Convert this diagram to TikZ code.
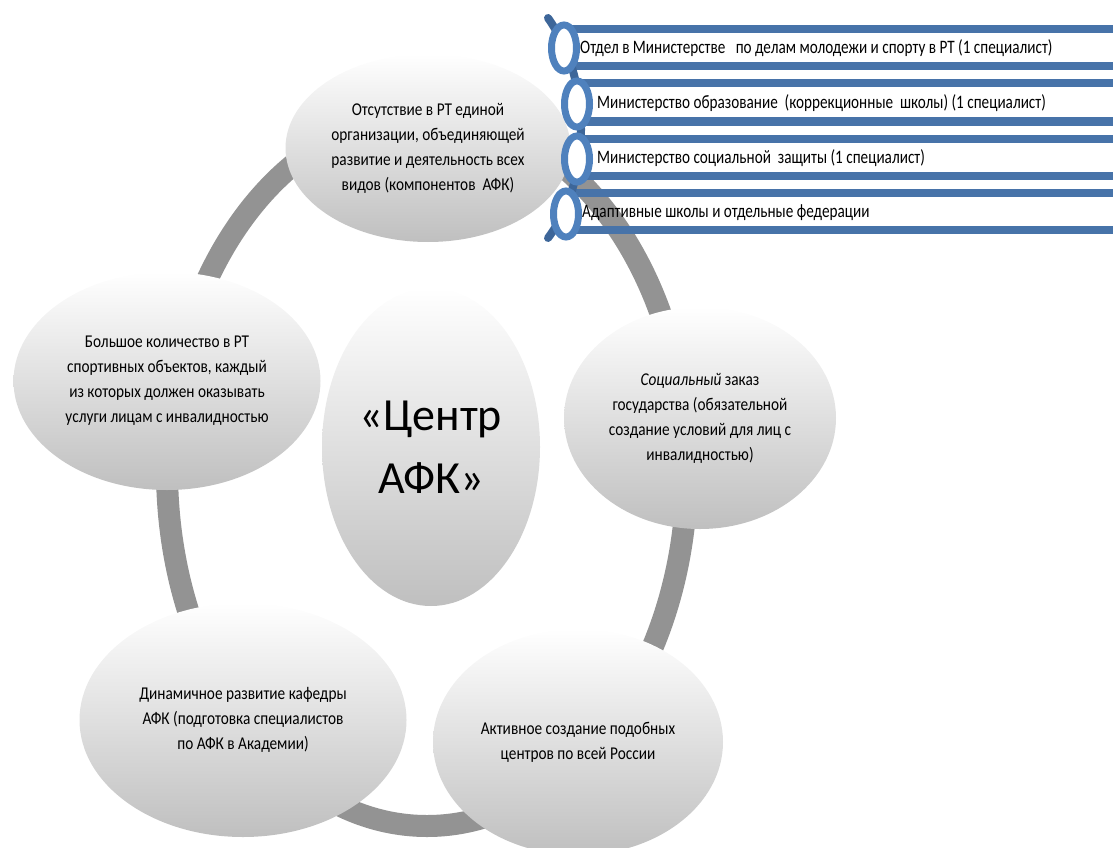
\documentclass[tikz,border=0pt]{standalone}
\usepackage{fontspec}
\setmainfont{Carlito}
\newfontfamily\narrowfont[FakeStretch=0.85]{Carlito}
\newfontfamily\listfont[FakeStretch=0.8]{Carlito}
\usetikzlibrary{shapes.geometric}
\definecolor{RingGray}{HTML}{939393}
\definecolor{ListBlue}{HTML}{4773A9}
\definecolor{CircBlue}{HTML}{4F81BD}
\definecolor{DotBlue}{HTML}{3D6699}

\begin{document}
\begin{tikzpicture}[x=1pt,y=-1pt,
    bubble/.style={ellipse,inner sep=0pt,top color=white,bottom color=black!25,
                   align=center,font=\narrowfont\fontsize{18}{25}\selectfont},
    listring/.style={ellipse,draw=CircBlue,line width=7pt,fill=white,
                     minimum width=25pt,minimum height=46pt,inner sep=0pt},
    bar/.style={fill=ListBlue},
    itemtext/.style={anchor=west,inner sep=0pt,font=\listfont\fontsize{19}{22}\selectfont}]
    \useasboundingbox (0,0) rectangle (1113,848);
    \draw[RingGray,line width=22pt] (427,470) ellipse [x radius=260,y radius=356];

    \node[bubble,minimum width=285pt,minimum height=188pt] (lack) at (428,148)
      {Отсутствие в РТ единой\\организации, объединяющей\\развитие и деятельность всех\\видов (компонентов\ \ АФК)};
    \node[bubble,minimum width=272pt,minimum height=222pt] (order) at (700,418)
      {\textit{Социальный} заказ\\государства (обязательной\\создание условий для лиц с\\инвалидностью)};
    \node[bubble,minimum width=290pt,minimum height=226pt] (russia) at (578,742)
      {Активное создание подобных\\центров по всей России};
    \node[bubble,minimum width=327pt,minimum height=234pt] (chair) at (243,720)
      {Динамичное развитие кафедры\\АФК (подготовка специалистов\\по АФК в Академии)};
    \node[bubble,minimum width=307pt,minimum height=218pt] (objects) at (167,381)
      {Большое количество в РТ\\спортивных объектов, каждый\\из которых должен оказывать\\услуги лицам с инвалидностью};
    \node[bubble,minimum width=218pt,minimum height=318pt,
          font=\fontsize{46}{63}\selectfont] (centre) at (431,447) {«Центр\\АФК»};

    \fill[bar] (570,25) rectangle (1113,33);
    \fill[bar] (570,62) rectangle (1113,70);
    \fill[bar] (580,79) rectangle (1113,87);
    \fill[bar] (580,117) rectangle (1113,126);
    \fill[bar] (580,135) rectangle (1113,143);
    \fill[bar] (580,172) rectangle (1113,180);
    \fill[bar] (570,189) rectangle (1113,197);
    \fill[bar] (570,226) rectangle (1113,234);

    \draw[DotBlue,line width=8pt,line cap=round] (548,18) .. controls (592,80) and (592,180) .. (548,238);

    \node[listring] (c1) at (564,48) {};
    \node[listring] (c2) at (577,104) {};
    \node[listring] (c3) at (577,159) {};
    \node[listring] (c4) at (566,214) {};

    \node[itemtext] (t1) at (580,48) {Отдел в Министерстве\ \ \ по делам молодежи и спорту в РТ (1 специалист)};
    \node[itemtext] (t2) at (597,103) {Министерство образование\ \ (коррекционные\ \ школы) (1 специалист)};
    \node[itemtext] (t3) at (597,158) {Министерство социальной\ \ защиты (1 специалист)};
    \node[itemtext] (t4) at (582,213) {Адаптивные школы и отдельные федерации};
  \end{tikzpicture}
\end{document}
